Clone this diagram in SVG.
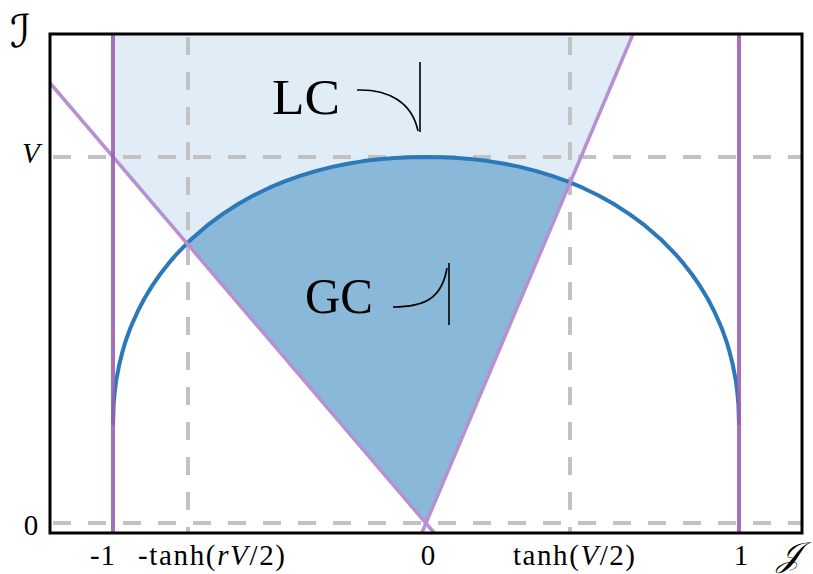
<svg xmlns="http://www.w3.org/2000/svg" width="813" height="574" viewBox="0 0 813 574">
<style>
.dash{stroke:#c2c2c2;stroke-width:4;stroke-dasharray:18 17;fill:none}
.vline{stroke:#9c5fb0;stroke-opacity:0.9;stroke-width:4;fill:none}
.diag{stroke:#b690d2;stroke-width:3.5;fill:none}
.lbl{font-family:"Liberation Serif","DejaVu Serif",serif;font-size:29px;fill:#000}
.big{font-family:"Liberation Serif","DejaVu Serif",serif;font-size:50px;fill:#000}
.sym{stroke:#000;stroke-width:1.6;fill:none}
</style>
<rect width="813" height="574" fill="#fff"/>
<g id="region-lc">
<path fill="#e0edf6" d="M113,34 L633,34 L570.1,182.5 L566.85,181.2 L551.2,175.6 L535.55,170.9 L519.9,166.9 L504.25,163.7 L488.6,161.1 L472.95,159.2 L457.3,157.9 L441.65,157.2 L426,157 L410.35,157.2 L394.7,157.9 L379.05,159.2 L363.4,161.1 L347.75,163.7 L332.1,166.9 L316.45,170.9 L300.8,175.6 L285.15,181.2 L269.5,187.7 L253.85,195.3 L238.2,204 L222.55,214.1 L206.9,225.7 L191.25,239.2 L187,243.5 L113,156.5 Z"/>
</g>
<g id="region-gc">
<path fill="#8ab8d8" d="M187,243.5 L191.25,239.2 L206.9,225.7 L222.55,214.1 L238.2,204 L253.85,195.3 L269.5,187.7 L285.15,181.2 L300.8,175.6 L316.45,170.9 L332.1,166.9 L347.75,163.7 L363.4,161.1 L379.05,159.2 L394.7,157.9 L410.35,157.2 L426,157 L441.65,157.2 L457.3,157.9 L472.95,159.2 L488.6,161.1 L504.25,163.7 L519.9,166.9 L535.55,170.9 L551.2,175.6 L566.85,181.2 L570.1,182.5 L426,523 Z"/>
</g>
<g id="connectors">
<line class="dash" x1="53" y1="157" x2="801" y2="157"/>
<line class="dash" x1="53" y1="523" x2="801" y2="523"/>
<line class="dash" x1="188" y1="37" x2="188" y2="533"/>
<line class="dash" x1="570" y1="37" x2="570" y2="533"/>
<polyline id="curve" fill="none" stroke="#2b79b9" stroke-width="4" stroke-linejoin="round" points="113,425 113.6,404.4 114.6,393.3 116.1,381.1 119.3,364.4 122.4,351.9 125.5,341.5 128.65,332.6 131.8,324.6 138.04,310.8 144.3,298.8 152.1,285.9 159.95,274.5 167.8,264.4 175.6,255.2 191.25,239.2 206.9,225.7 222.55,214.1 238.2,204 253.85,195.3 269.5,187.7 285.15,181.2 300.8,175.6 316.45,170.9 332.1,166.9 347.75,163.7 363.4,161.1 379.05,159.2 394.7,157.9 410.35,157.2 426,157 441.65,157.2 457.3,157.9 472.95,159.2 488.6,161.1 504.25,163.7 519.9,166.9 535.55,170.9 551.2,175.6 566.85,181.2 582.5,187.7 598.15,195.3 613.8,204 629.45,214.1 645.1,225.7 660.75,239.2 676.4,255.2 684.2,264.4 692.05,274.5 699.9,285.9 707.7,298.8 713.96,310.8 720.2,324.6 723.35,332.6 726.5,341.5 729.6,351.9 732.7,364.4 735.9,381.1 737.4,393.3 738.4,404.4 739,425"/>
<line class="diag" x1="50" y1="83" x2="434.3" y2="533"/>
<line class="diag" x1="633" y1="34" x2="421.8" y2="533"/>
<line class="vline" x1="113" y1="34" x2="113" y2="533"/>
<line class="vline" x1="739" y1="34" x2="739" y2="533"/>
</g>
<g id="frame">
<rect x="50" y="34" width="752" height="499" fill="none" stroke="#000" stroke-width="3"/>
</g>
<g id="label-lc">
<text class="big" x="272" y="114" textLength="68" lengthAdjust="spacingAndGlyphs">LC</text>
<path class="sym" d="M357,90 C388,89 412,102 418,131"/>
<line class="sym" x1="420" y1="62" x2="420" y2="132"/>
</g>
<g id="label-gc">
<text class="big" x="305" y="313" textLength="68" lengthAdjust="spacingAndGlyphs">GC</text>
<path class="sym" d="M393,307 C425,307 442,298 447,268"/>
<line class="sym" x1="449" y1="263" x2="449" y2="325"/>
</g>
<g id="axis-labels">
<text x="10" y="47" style="font-family:'DejaVu Serif','DejaVu Sans',serif;font-size:45px;font-style:italic">ℐ</text>
<text x="777" y="566" style="font-family:'DejaVu Serif','DejaVu Sans',serif;font-size:34px;font-style:italic">𝒥</text>
<text class="lbl" x="22" y="163" font-style="italic">V</text>
<text class="lbl" x="31" y="535" text-anchor="middle">0</text>
<text class="lbl" x="90" y="565" textLength="25">-1</text>
<text class="lbl" x="138" y="565" textLength="147">-tanh(<tspan font-style="italic">rV</tspan>/2)</text>
<text class="lbl" x="428" y="565" text-anchor="middle">0</text>
<text class="lbl" x="513" y="565" textLength="122">tanh(<tspan font-style="italic">V</tspan>/2)</text>
<text class="lbl" x="741" y="565" text-anchor="middle">1</text>
</g>
</svg>
